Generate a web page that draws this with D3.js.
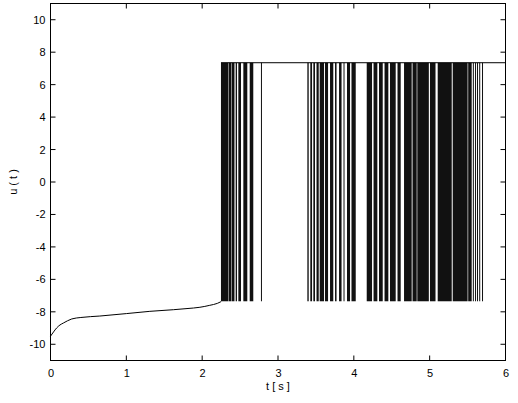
<!DOCTYPE html>
<html>
<head>
<meta charset="utf-8">
<script src="https://cdn.jsdelivr.net/npm/d3@7"></script>
<style>
  body { margin: 0; background: #fff; }
  text { font-family: "Liberation Sans", Arial, sans-serif; font-size: 11px; fill: #000; }
</style>
</head>
<body>
<div id="chart"></div>
<script>
var width = 518,
    height = 403;

// start-up part of u(t), before the switching begins
var curveT = [0, 0.04, 0.08, 0.125, 0.17, 0.28, 0.4, 0.65, 1.0, 1.31, 1.62, 1.8, 1.97, 2.1, 2.2, 2.25];
var curveU = [-9.5, -9.24, -9.0, -8.81, -8.69, -8.44, -8.35, -8.26, -8.11, -7.97, -7.87, -7.8, -7.72, -7.6, -7.48, -7.37];

// switching levels
var uHigh = 7.35,
    uLow = -7.35;

// bands where u(t) chatters between the two levels
var bandStart = [2.248, 2.350, 2.392, 2.442, 2.477, 2.543, 2.627,
                 3.387, 3.426, 3.466, 3.508, 3.550, 3.620, 3.686, 3.752, 3.805, 3.864, 3.910, 3.969,
                 4.170, 4.260, 4.332, 4.405, 4.477, 4.576, 4.662, 4.774, 4.837, 5.004, 5.106, 5.304, 5.508];
var bandEnd   = [2.345, 2.386, 2.426, 2.459, 2.512, 2.595, 2.674,
                 3.405, 3.449, 3.488, 3.537, 3.607, 3.660, 3.729, 3.772, 3.838, 3.877, 3.950, 4.025,
                 4.240, 4.310, 4.381, 4.455, 4.552, 4.618, 4.763, 4.829, 4.989, 5.077, 5.291, 5.500, 5.554];

// single switching spikes
var spikeT = [2.782, 5.576, 5.605, 5.631, 5.660, 5.697];

// top level holds from the first switch to the end
var holdT = [2.248, 6];

var xTicks = [0, 1, 2, 3, 4, 5, 6];
var yTicks = [-10, -8, -6, -4, -2, 0, 2, 4, 6, 8, 10];

var x = d3.scaleLinear().domain([0, 6]).range([50.5, 505.5]);
var y = d3.scaleLinear().domain([-11, 11]).range([360.5, 3.5]);

var svg = d3.select("#chart").append("svg")
    .attr("width", width)
    .attr("height", height);

/*
-----------------SIGNAL-----------------
*/

var plot = svg.append("g");

plot.selectAll("rect.band")
    .data(bandStart)
  .enter().append("rect")
    .attr("class", "band")
    .attr("x", function(d) { return x(d); })
    .attr("width", function(d, i) { return x(bandEnd[i]) - x(d); })
    .attr("y", y(uHigh))
    .attr("height", y(uLow) - y(uHigh))
    .attr("fill", "#111");

plot.selectAll("line.spike")
    .data(spikeT)
  .enter().append("line")
    .attr("class", "spike")
    .attr("x1", function(d) { return x(d); })
    .attr("x2", function(d) { return x(d); })
    .attr("y1", y(uHigh))
    .attr("y2", y(uLow))
    .attr("stroke", "#111")
    .attr("stroke-width", 1);

plot.append("line")
    .attr("x1", x(holdT[0]))
    .attr("x2", x(holdT[1]))
    .attr("y1", y(uHigh))
    .attr("y2", y(uHigh))
    .attr("stroke", "#000")
    .attr("stroke-width", 1);

var lineFunction = d3.line()
    .x(function(d) { return x(d); })
    .y(function(d, i) { return y(curveU[i]); })
    .curve(d3.curveMonotoneX);

plot.append("path")
    .attr("d", lineFunction(curveT))
    .attr("fill", "none")
    .attr("stroke", "#000")
    .attr("stroke-width", 1);

/*
-----------------AXES-----------------
*/

var tick = 5;

svg.append("rect")
    .attr("x", x(0))
    .attr("y", y(11))
    .attr("width", x(6) - x(0))
    .attr("height", y(-11) - y(11))
    .attr("fill", "none")
    .attr("stroke", "#000")
    .attr("stroke-width", 1);

// plain hyphen for negatives, as in the original
var fmt = function(d) { return String(d); };

var xAxis = d3.axisBottom(x).tickValues(xTicks).tickSize(0).tickPadding(9).tickFormat(fmt);
var yAxis = d3.axisLeft(y).tickValues(yTicks).tickSize(0).tickPadding(5).tickFormat(fmt);

svg.append("g")
    .attr("transform", "translate(0," + y(-11) + ")")
    .call(xAxis)
    .call(function(g) { g.select(".domain").remove(); })
    .selectAll("text")
    .style("font-size", "11px")
    .style("font-family", "Liberation Sans, Arial, sans-serif");

svg.append("g")
    .attr("transform", "translate(" + x(0) + ",0)")
    .call(yAxis)
    .call(function(g) { g.select(".domain").remove(); })
    .selectAll("text")
    .style("font-size", "11px")
    .style("font-family", "Liberation Sans, Arial, sans-serif");

// inward ticks on all four sides, like the original
var ticks = svg.append("g").attr("stroke", "#000").attr("stroke-width", 1);

xTicks.forEach(function(d) {
  ticks.append("line").attr("x1", x(d)).attr("x2", x(d)).attr("y1", y(-11)).attr("y2", y(-11) - tick);
  ticks.append("line").attr("x1", x(d)).attr("x2", x(d)).attr("y1", y(11)).attr("y2", y(11) + tick);
});

yTicks.forEach(function(d) {
  ticks.append("line").attr("x1", x(0)).attr("x2", x(0) + tick).attr("y1", y(d)).attr("y2", y(d));
  ticks.append("line").attr("x1", x(6)).attr("x2", x(6) - tick).attr("y1", y(d)).attr("y2", y(d));
});

/*
-----------------LABELS-----------------
*/

svg.append("text")
    .attr("x", (x(0) + x(6)) / 2)
    .attr("y", 390)
    .attr("text-anchor", "middle")
    .text("t [ s ]");

svg.append("text")
    .attr("transform", "translate(17," + (y(0)) + ") rotate(-90)")
    .attr("text-anchor", "middle")
    .text("u ( t )");
</script>
</body>
</html>
